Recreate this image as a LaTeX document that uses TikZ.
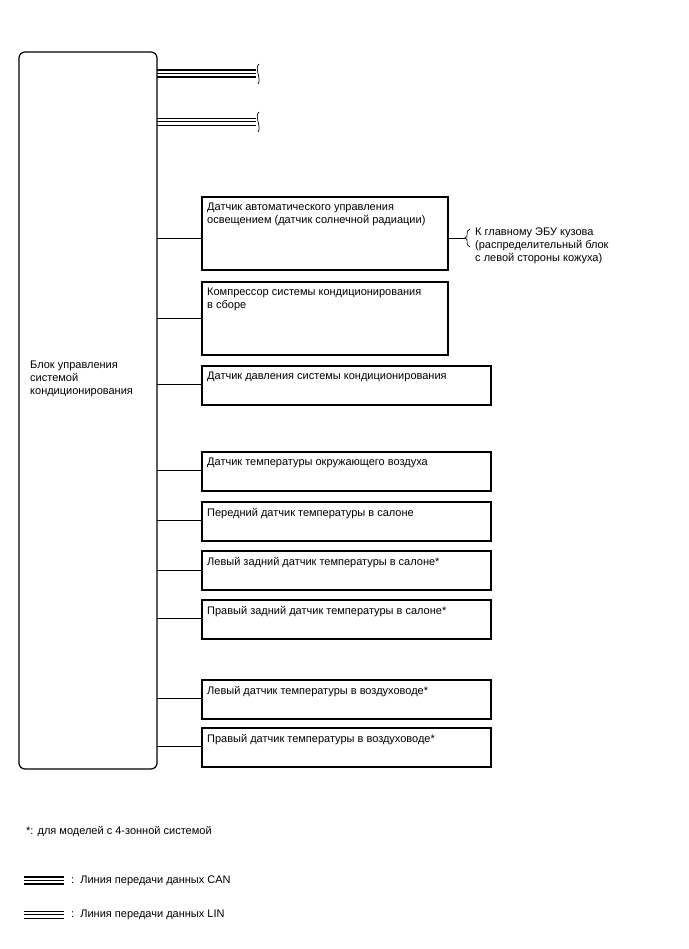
\documentclass[tikz,border=0pt]{standalone}
\usepackage{fontspec}
\setmainfont{Liberation Sans}
\begin{document}
\begin{tikzpicture}[x=1pt,y=-1pt,
  comp/.style={draw, line width=1.6pt, anchor=north west, inner sep=0pt},
  lbl/.style={anchor=north west, inner sep=0pt, font=\fontsize{11}{13}\selectfont, align=left},
  wire/.style={line width=0.8pt},
  thickw/.style={line width=1.7pt},
  thinw/.style={line width=0.7pt}]
\useasboundingbox (0,0) rectangle (688,949);
% main unit
\draw[line width=1.2pt, rounded corners=6pt] (19,52) rectangle (157,769);
\node[lbl] (ecu) at (30,361) {Блок управления\\системой\\кондиционирования};
% CAN bundle
\coordinate (c1) at (157,73.3);
\coordinate (c1e) at (256,73.3);
\draw[thickw] ([yshift=-3.5pt]c1) -- ([yshift=-3.5pt]c1e);
\draw[thinw] (c1) -- (c1e);
\draw[thickw] ([yshift=3.5pt]c1) -- ([yshift=3.5pt]c1e);
\draw[thinw] (259,64) .. controls (254,68) and (262,80) .. (258,84);
% LIN bundle
\coordinate (c2) at (157,121.5);
\coordinate (c2e) at (256,121.5);
\draw[thinw] ([yshift=-3.5pt]c2) -- ([yshift=-3.5pt]c2e);
\draw[thickw] (c2) -- (c2e);
\draw[thinw] ([yshift=3.5pt]c2) -- ([yshift=3.5pt]c2e);
\draw[thinw] (259,112) .. controls (254,116) and (262,128) .. (258,132);
% components
\newcommand{\comp}[6]{%
  \node[comp, minimum width=#3pt, minimum height=#4pt] (#1) at (201,#2) {};
  \node[lbl] (#1t) at (207,#2+7) {#6};
  \draw[wire] (157,#5) -- (#1.west |- 0,#5);
}
\comp{b1}{196}{246}{73}{238}{Датчик автоматического управления\\освещением (датчик солнечной радиации)}
\comp{b2}{281}{246}{73}{318}{Компрессор системы кондиционирования\\в сборе}
\comp{b3}{365}{289}{39}{384}{Датчик давления системы кондиционирования}
\comp{b4}{451}{289}{39}{470}{Датчик температуры окружающего воздуха}
\comp{b5}{501}{289}{39}{520}{Передний датчик температуры в салоне}
\comp{b6}{550}{289}{39}{570}{Левый задний датчик температуры в салоне*}
\comp{b7}{599}{289}{39}{618}{Правый задний датчик температуры в салоне*}
\comp{b8}{679}{289}{39}{698}{Левый датчик температуры в воздуховоде*}
\comp{b9}{727}{289}{39}{746}{Правый датчик температуры в воздуховоде*}
% right connector of b1
\coordinate (br) at (465,238);
\draw[wire] (b1.east |- br) -- (br);
\draw[thinw] (470,229) .. controls (464,231) and (470,237) .. (465,238) .. controls (470,239) and (464,245) .. (470,247);
\node[lbl] (ebu) at (475,227.5) {К главному ЭБУ кузова\\(распределительный блок\\с левой стороны кожуха)};
% footnote
\node[lbl] (fn) at (26,826) {*: для моделей с 4-зонной системой};
% legend
\coordinate (l1) at (24,880.5);
\coordinate (l1e) at (64,880.5);
\draw[thickw] ([yshift=-3.6pt]l1) -- ([yshift=-3.6pt]l1e);
\draw[thinw] (l1) -- (l1e);
\draw[thickw] ([yshift=3.6pt]l1) -- ([yshift=3.6pt]l1e);
\node[lbl] (lcan) at (71,875.5) {:\ \ Линия передачи данных CAN};
\coordinate (l2) at (24,914.5);
\coordinate (l2e) at (64,914.5);
\draw[thinw] ([yshift=-3.6pt]l2) -- ([yshift=-3.6pt]l2e);
\draw[thickw] (l2) -- (l2e);
\draw[thinw] ([yshift=3.6pt]l2) -- ([yshift=3.6pt]l2e);
\node[lbl] (llin) at (71,909.5) {:\ \ Линия передачи данных LIN};
\end{tikzpicture}
\end{document}
